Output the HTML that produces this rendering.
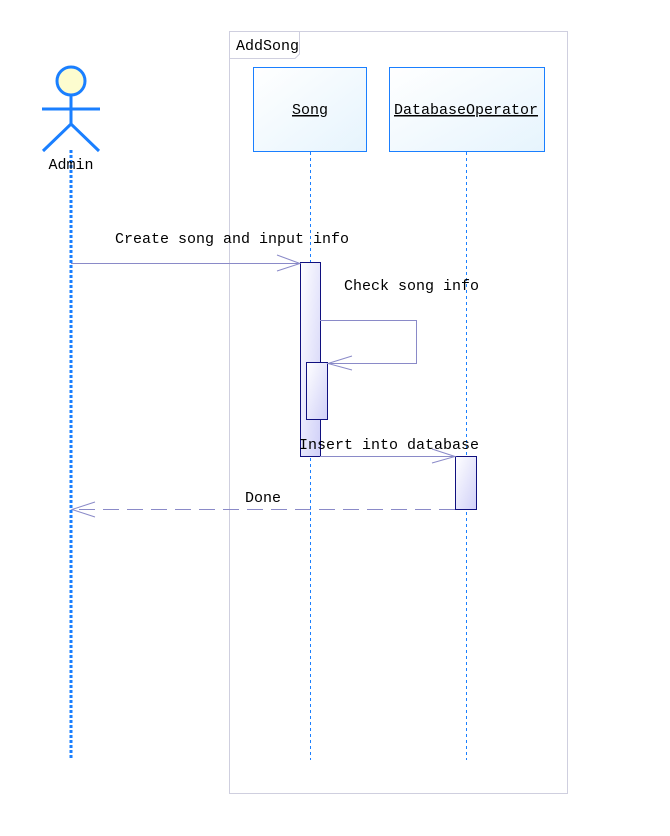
<!DOCTYPE html>
<html><head><meta charset="utf-8"><style>body{margin:0;background:#fff}svg{display:block}text{font-family:"Liberation Mono",monospace;font-size:15px;fill:#000}</style></head>
<body>
<svg width="670" height="836" viewBox="0 0 670 836" xmlns="http://www.w3.org/2000/svg">
<defs>
<linearGradient id="bx" x1="0" y1="0" x2="1" y2="1"><stop offset="0" stop-color="#ffffff"/><stop offset="1" stop-color="#e6f4fd"/></linearGradient>
<linearGradient id="ac" x1="0" y1="0" x2="1" y2="1"><stop offset="0" stop-color="#ffffff"/><stop offset="1" stop-color="#d0d0f8"/></linearGradient>
</defs>
<rect x="229.5" y="31.5" width="338" height="762" fill="none" stroke="#cfcfdf"/>
<path d="M229.5 58.5 H295 L299.5 54 V31.5" fill="none" stroke="#cfcfdf"/>
<text x="236" y="50">AddSong</text>
<!-- actor -->
<circle cx="71" cy="81" r="14" fill="#fdfccf" stroke="#1a7fff" stroke-width="3"/>
<g stroke="#1a7fff" stroke-width="3" fill="none">
<line x1="71" y1="95" x2="71" y2="124"/><line x1="42" y1="109" x2="100" y2="109"/>
<polyline points="43,151 71,124 99,151"/></g>
<line x1="71" y1="150" x2="71" y2="760" stroke="#1a7fff" stroke-width="3" stroke-dasharray="3,2"/>
<text x="71" y="169" text-anchor="middle">Admin</text>
<!-- boxes -->
<rect x="253.5" y="67.5" width="113" height="84" fill="url(#bx)" stroke="#1a7fff"/>
<text x="310" y="114" text-anchor="middle" text-decoration="underline">Song</text>
<rect x="389.5" y="67.5" width="155" height="84" fill="url(#bx)" stroke="#1a7fff"/>
<text x="466" y="114" text-anchor="middle" text-decoration="underline">DatabaseOperator</text>
<line x1="310.5" y1="152" x2="310.5" y2="760" stroke="#1a7fff" stroke-dasharray="3,3"/>
<line x1="466.5" y1="152" x2="466.5" y2="760" stroke="#1a7fff" stroke-dasharray="3,3"/>
<!-- activations -->
<rect x="300.5" y="262.5" width="20" height="194" fill="url(#ac)" stroke="#10107f"/>
<rect x="306.5" y="362.5" width="21" height="57" fill="url(#ac)" stroke="#10107f"/>
<rect x="455.5" y="456.5" width="21" height="53" fill="url(#ac)" stroke="#10107f"/>
<g stroke="#8a8ac8" fill="none">
<line x1="71" y1="263.5" x2="300" y2="263.5"/><polyline points="277,255 300,263.5 277,271"/>
<polyline points="320,320.5 416.5,320.5 416.5,363.5 327,363.5"/><polyline points="352,356 328,363.5 352,370"/>
<line x1="320" y1="456.5" x2="455" y2="456.5"/><polyline points="432,449 455,456.5 432,463"/>
<line x1="455" y1="509.5" x2="72" y2="509.5" stroke-dasharray="16,8"/><polyline points="95,502 72,509.5 95,517"/>
</g>
<text x="115" y="243">Create song and input info</text>
<text x="344" y="290">Check song info</text>
<text x="299" y="449">Insert into database</text>
<text x="245" y="502">Done</text>
</svg>
</body></html>
